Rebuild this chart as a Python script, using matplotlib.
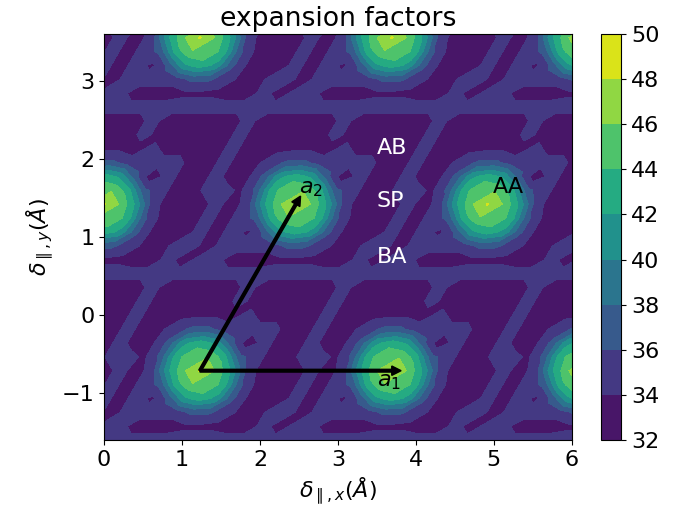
import numpy as np
import matplotlib
matplotlib.use("Agg")
import matplotlib.pyplot as plt

plt.rcParams['font.size'] = 16

# lattice (Angstrom)
a = 2.46
aa_origin = (1.23, -0.71)
n_cell = 12

# expansion factors on a 12x12 grid of one unit cell (row = step along a2, column = step along a1)
cell = [
    [48.2, 45.8, 41.5, 35.0, 33.0, 33.0, 33.0, 34.8, 33.0, 35.0, 41.5, 45.8],
    [45.8, 43.0, 36.5, 35.0, 33.0, 33.0, 34.8, 34.8, 33.6, 36.5, 43.0, 45.8],
    [41.5, 36.5, 32.5, 35.0, 33.0, 33.0, 34.8, 33.0, 33.6, 36.5, 41.5, 43.0],
    [35.0, 35.0, 35.0, 35.0, 33.0, 33.0, 34.8, 33.0, 33.6, 35.0, 36.5, 36.5],
    [33.0, 34.8, 33.0, 33.0, 33.0, 33.0, 34.8, 33.0, 33.0, 33.6, 33.6, 33.6],
    [34.8, 33.0, 33.0, 33.0, 33.0, 33.0, 34.8, 33.0, 33.0, 33.0, 33.0, 33.0],
    [34.8, 33.0, 33.0, 33.0, 33.0, 33.0, 34.8, 33.0, 33.0, 33.0, 33.0, 33.0],
    [34.8, 34.8, 34.8, 34.8, 34.8, 34.8, 34.8, 34.8, 34.8, 34.8, 34.8, 34.8],
    [33.0, 33.6, 33.6, 33.6, 33.0, 33.0, 34.8, 33.0, 34.8, 34.8, 33.0, 33.0],
    [35.0, 36.5, 36.5, 35.0, 33.6, 33.0, 34.8, 34.8, 33.0, 35.0, 35.0, 35.0],
    [41.5, 43.0, 41.5, 36.5, 33.6, 33.0, 33.0, 34.8, 33.0, 35.0, 33.5, 36.5],
    [45.8, 45.8, 43.0, 36.5, 33.6, 33.0, 33.0, 34.8, 33.0, 35.0, 36.5, 43.0],
]
cell = np.array(cell)

levels = np.arange(32, 51, 2)

# periodic images of the cell over the plotted window
step = a / n_cell
I, J = np.meshgrid(np.arange(-20, 29), np.arange(-7, 27))
X = aa_origin[0] + step * I + 0.5 * step * J
Y = aa_origin[1] + step * np.sqrt(3) / 2 * J
Z = cell[np.mod(J, n_cell), np.mod(I, n_cell)]

fig = plt.figure(figsize=(6.89, 5.21), dpi=100)
ax = fig.add_axes([0.151, 0.155, 0.679, 0.780])
cax = fig.add_axes([0.873, 0.155, 0.029, 0.780])

cs = ax.contourf(X, Y, Z, levels=levels, cmap='viridis')
cb = fig.colorbar(cs, cax=cax)
cb.set_ticks(levels)

# lattice vectors
x0, y0 = aa_origin
ax.arrow(x0, y0, a, 0, width=0.035, head_width=0.12, head_length=0.12, color='k')
ax.arrow(x0, y0, a / 2, a * np.sqrt(3) / 2, width=0.035, head_width=0.12, head_length=0.12, color='k')
ax.text(3.5, -0.86, r'$a_1$', ha='left', va='center')
ax.text(2.5, 1.62, r'$a_2$', ha='left', va='center')

ax.text(3.5, 2.14, 'AB', color='w', ha='left', va='center')
ax.text(3.5, 1.46, 'SP', color='w', ha='left', va='center')
ax.text(3.5, 0.75, 'BA', color='w', ha='left', va='center')
ax.text(4.98, 1.64, 'AA', color='k', ha='left', va='center')

ax.set_xlim(0, 6)
ax.set_ylim(-1.6, 3.6)
ax.set_xticks([0, 1, 2, 3, 4, 5, 6])
ax.set_title('expansion factors')
ax.set_xlabel(r'$\delta_{\parallel,x}(\AA)$')
ax.set_ylabel(r'$\delta_{\parallel,y}(\AA)$')

fig.savefig('out.png', dpi=100)
